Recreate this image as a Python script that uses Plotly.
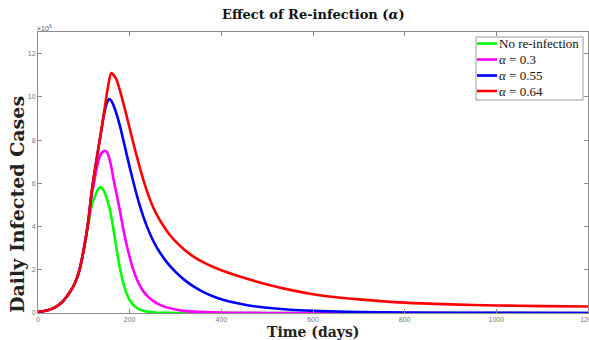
import plotly.graph_objects as go

# ---- data (values in units of 10^6) ----
t_green = [0, 10, 20, 30, 40, 50, 60, 70, 80, 90, 100, 110, 117, 125, 132, 138, 145, 150, 155, 160, 165, 170, 175, 180, 185, 190, 195, 200, 210, 220, 230, 240, 255, 270, 300, 350, 500, 800, 1200]
v_green = [0.05, 0.08, 0.12, 0.19, 0.3, 0.45, 0.68, 0.98, 1.35, 1.95, 2.95, 4.15, 4.95, 5.45, 5.75, 5.82, 5.6, 5.3, 4.95, 4.45, 3.83, 3.15, 2.5, 1.95, 1.48, 1.1, 0.82, 0.6, 0.33, 0.18, 0.1, 0.055, 0.025, 0.012, 0.003, 0.0, 0.0, 0.0, 0.0]

t_mag = [0, 10, 20, 30, 40, 50, 60, 70, 80, 90, 100, 110, 117, 122, 128, 136, 145, 150, 155, 160, 165, 172, 179, 186, 194, 201, 208, 215, 222, 230, 240, 252, 265, 281, 300, 318, 350, 400, 450, 500, 600, 800, 1200]
v_mag = [0.05, 0.08, 0.12, 0.19, 0.3, 0.45, 0.68, 0.98, 1.35, 1.95, 2.95, 4.25, 5.45, 6.0, 6.7, 7.3, 7.5, 7.45, 7.2, 6.75, 6.15, 5.45, 4.7, 3.9, 3.1, 2.5, 2.0, 1.6, 1.28, 1.0, 0.76, 0.55, 0.39, 0.26, 0.16, 0.1, 0.05, 0.02, 0.008, 0.003, 0.0, 0.0, 0.0]

t_blue = [0, 10, 20, 30, 40, 50, 60, 70, 80, 90, 100, 110, 117, 127, 137, 145, 150, 155, 160, 170, 180, 190, 200, 210, 220, 230, 240, 250, 260, 270, 280, 300, 320, 340, 360, 380, 400, 430, 460, 500, 550, 600, 700, 800, 1000, 1200]
v_blue = [0.05, 0.08, 0.12, 0.19, 0.3, 0.45, 0.68, 0.98, 1.35, 1.95, 2.95, 4.3, 5.6, 7.0, 8.3, 9.3, 9.7, 9.9, 9.82, 9.3, 8.55, 7.65, 6.75, 5.9, 5.12, 4.45, 3.88, 3.4, 3.0, 2.67, 2.38, 1.9, 1.52, 1.22, 0.98, 0.79, 0.64, 0.47, 0.35, 0.24, 0.15, 0.1, 0.045, 0.02, 0.007, 0.003]

t_red = [0, 10, 20, 30, 40, 50, 60, 70, 80, 90, 100, 110, 117, 127, 137, 147, 153, 160, 170, 180, 190, 200, 210, 220, 230, 240, 250, 260, 270, 280, 290, 300, 320, 340, 360, 380, 400, 430, 460, 500, 550, 600, 650, 700, 800, 900, 1000, 1100, 1200]
v_red = [0.05, 0.08, 0.12, 0.19, 0.3, 0.45, 0.68, 0.98, 1.35, 1.95, 2.95, 4.3, 5.6, 7.0, 8.3, 9.7, 10.5, 11.1, 10.85, 10.2, 9.4, 8.55, 7.7, 6.9, 6.15, 5.5, 4.95, 4.52, 4.15, 3.83, 3.55, 3.31, 2.91, 2.6, 2.35, 2.15, 1.98, 1.76, 1.56, 1.32, 1.07, 0.87, 0.73, 0.63, 0.48, 0.4, 0.35, 0.32, 0.3]

series_names = ["No re-infection", "<i>α</i> = 0.3", "<i>α</i> = 0.55", "<i>α</i> = 0.64"]
series_colors = ["#00ff00", "#ff00ff", "#0000ff", "#ff0000"]
x_ticks = [0, 200, 400, 600, 800, 1000, 1200]
y_ticks = [0, 2, 4, 6, 8, 10, 12]

fig = go.Figure()
for t, v, name, col in zip([t_green, t_mag, t_blue, t_red],
                           [v_green, v_mag, v_blue, v_red],
                           series_names, series_colors):
    fig.add_trace(go.Scatter(x=t, y=v, mode="lines", name=name, showlegend=False,
                             line=dict(color=col, width=2.6, shape="spline", smoothing=0.7)))

axis_common = dict(showline=True, linecolor="#8c8c8c", linewidth=1, mirror="ticks",
                   ticks="inside", ticklen=4, tickcolor="#8c8c8c", tickwidth=1,
                   showgrid=False, zeroline=False, ticklabeloverflow="allow",
                   tickfont=dict(family="Liberation Sans", size=7, color="#777777"))

fig.update_xaxes(range=[0, 1200], tickvals=x_ticks, ticktext=[str(v) for v in x_ticks], **axis_common)
fig.update_yaxes(range=[0, 13], tickvals=y_ticks, ticktext=[str(v) for v in y_ticks], **axis_common)

fig.update_layout(
    width=589, height=340,
    margin=dict(l=38, r=1, t=32, b=27, autoexpand=False),
    paper_bgcolor="white", plot_bgcolor="white",
    title=dict(text="<b>Effect of Re-infection (<i>α</i>)</b>", x=0.532, xanchor="center",
               y=1 - 14 / 340, yanchor="middle",
               font=dict(family="DejaVu Serif", size=13, color="#111111")),
    showlegend=False,
)

# pixel -> paper helpers for the legend box and titles
def px_x(p):
    return (p - 38) / 550


def px_y(p):
    return (313 - p) / 281


# ---- legend (box, line samples and labels) ----
fig.add_shape(type="rect", xref="paper", yref="paper",
              x0=px_x(476), x1=px_x(583), y0=px_y(100), y1=px_y(37),
              line=dict(color="#999999", width=1), fillcolor="white", layer="above")
leg_y = [43.5, 59.5, 75.5, 91]
for name, col, yy in zip(series_names, series_colors, leg_y):
    fig.add_shape(type="line", xref="paper", yref="paper",
                  x0=px_x(477), x1=px_x(497), y0=px_y(yy), y1=px_y(yy),
                  line=dict(color=col, width=2.6), layer="above")
    fig.add_annotation(text=name, xref="paper", yref="paper",
                       x=px_x(497), y=px_y(yy), xanchor="left", yanchor="middle",
                       showarrow=False,
                       font=dict(family="Liberation Serif", size=13, color="#111111"))

fig.add_annotation(text="<b>Time (days)</b>", xref="paper", yref="paper",
                   x=px_x(313), y=px_y(332), xanchor="center", yanchor="middle",
                   showarrow=False, font=dict(family="DejaVu Serif", size=14, color="#222222"))
fig.add_annotation(text="<b>Daily Infected Cases</b>", xref="paper", yref="paper",
                   x=px_x(17), y=px_y(205), xanchor="center", yanchor="middle",
                   textangle=-90, showarrow=False,
                   font=dict(family="DejaVu Serif", size=19, color="#222222"))
fig.add_annotation(text="×10<sup>6</sup>", xref="paper", yref="paper",
                   x=-0.005, y=px_y(28), xanchor="left", yanchor="middle",
                   showarrow=False, font=dict(family="Liberation Sans", size=7, color="#555555"))

fig.write_html("out.html")
